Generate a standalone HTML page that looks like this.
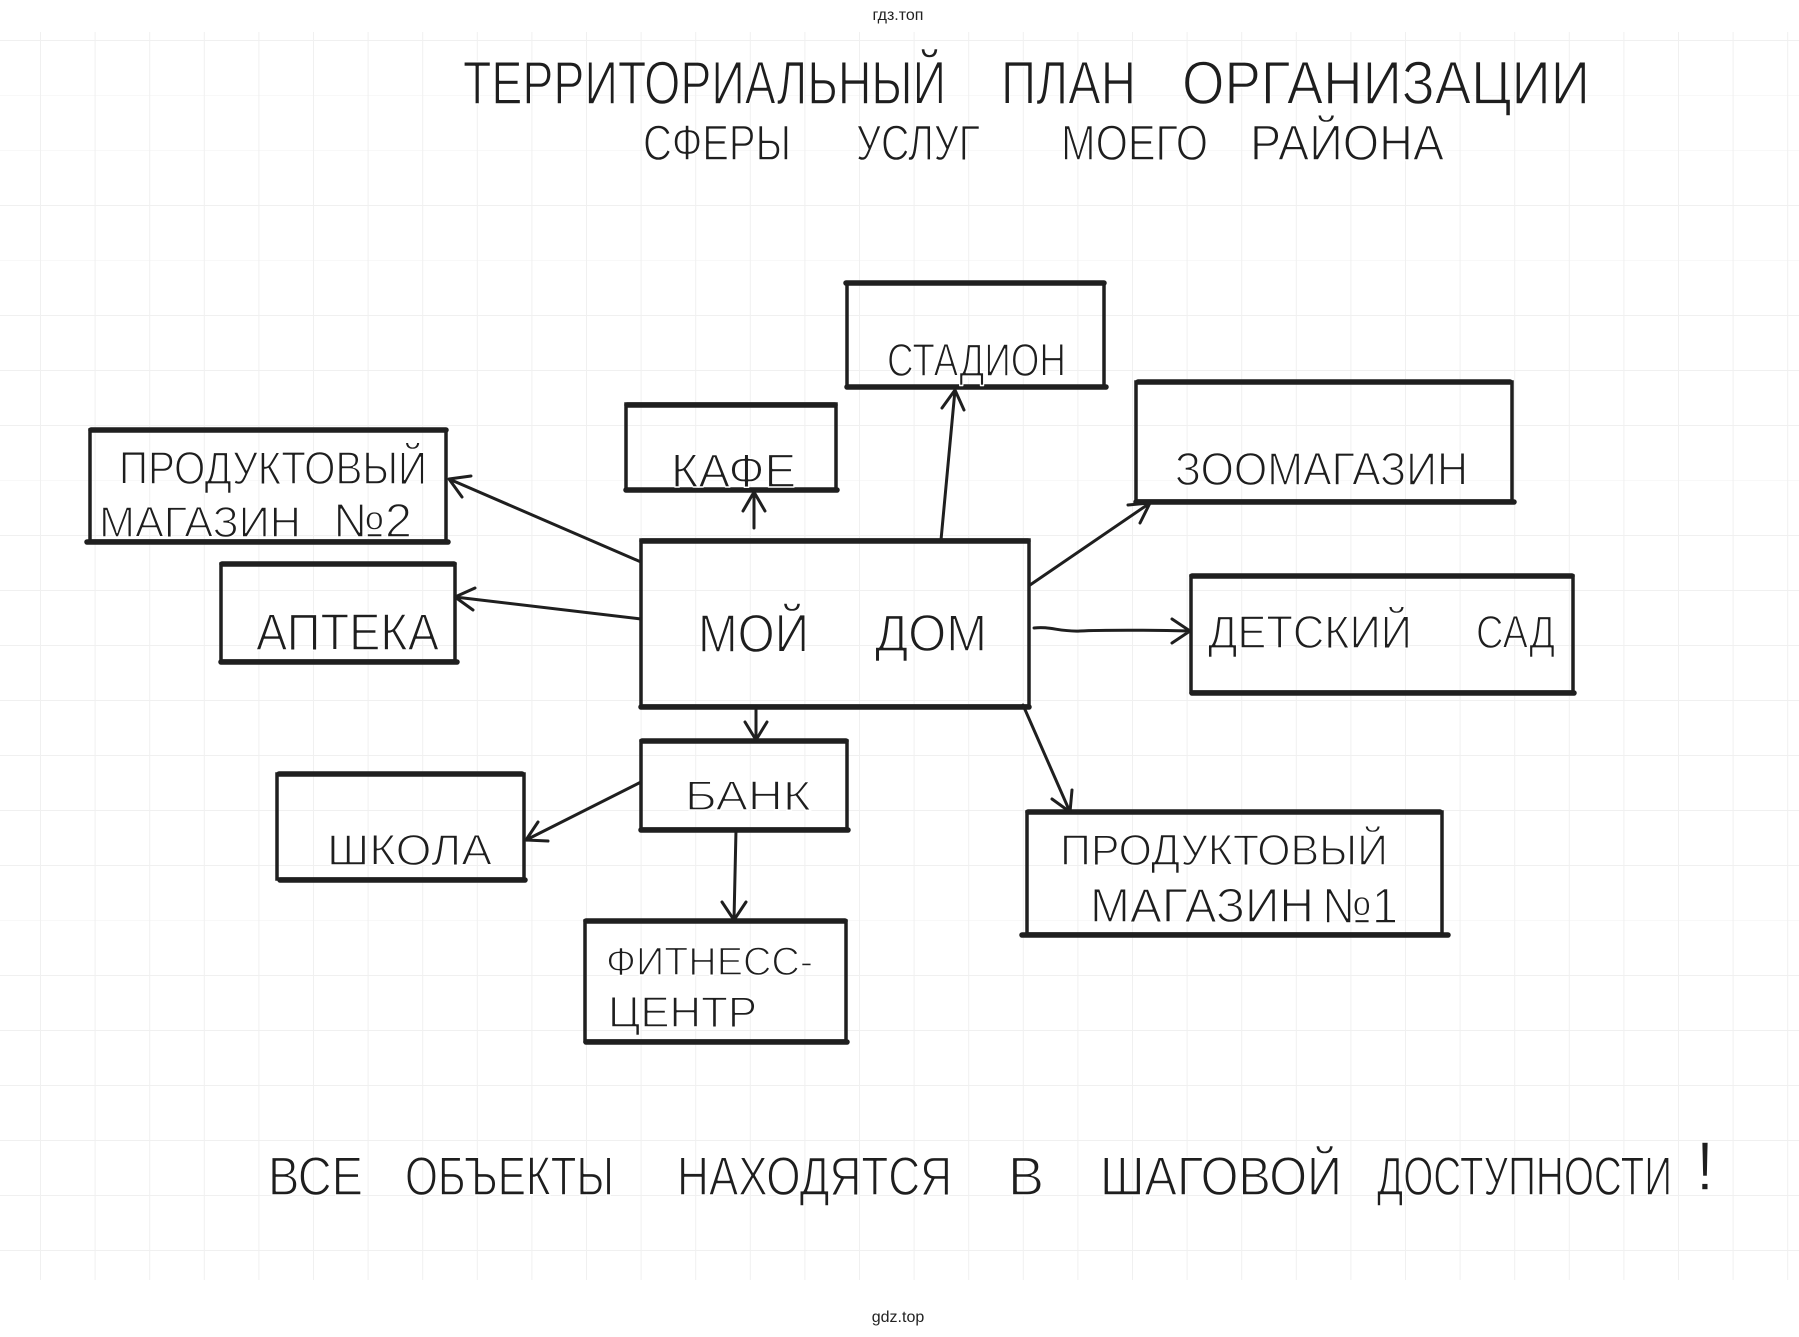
<!DOCTYPE html>
<html lang="ru">
<head>
<meta charset="utf-8">
<title>Территориальный план</title>
<style>
  html,body{margin:0;padding:0;background:#fff;}
  body{width:1799px;height:1337px;overflow:hidden;}
  svg{display:block;}
  text{font-family:"Liberation Sans","DejaVu Sans",sans-serif;fill:#1e1e1e;}
  .h{stroke:#fff;stroke-width:1.4px;stroke-linejoin:round;}
</style>
</head>
<body>
<svg width="1799" height="1337" viewBox="0 0 1799 1337" xmlns="http://www.w3.org/2000/svg">
  <defs>
    <pattern id="grid" x="40" y="40" width="54.6" height="55" patternUnits="userSpaceOnUse">
      <path d="M0 0H54.6M0 0V55" stroke="#f0f0f0" stroke-width="2" fill="none"/>
    </pattern>
  </defs>
  <rect x="0" y="0" width="1799" height="1337" fill="#fff"/>
  <rect x="0" y="32" width="1799" height="1248" fill="url(#grid)"/>

  <!-- watermark -->
  <text x="898" y="20" font-size="16" text-anchor="middle" style="fill:#222">гдз.топ</text>
  <text x="898" y="1322" font-size="16" text-anchor="middle" style="fill:#222">gdz.top</text>

  <!-- Title -->
  <g font-size="61" class="h">
    <text class="h" x="463" y="104" textLength="483" lengthAdjust="spacingAndGlyphs">ТЕРРИТОРИАЛЬНЫЙ</text>
    <text class="h" x="1001" y="104" textLength="135" lengthAdjust="spacingAndGlyphs">ПЛАН</text>
    <text class="h" x="1182" y="104" textLength="408" lengthAdjust="spacingAndGlyphs">ОРГАНИЗАЦИИ</text>
  </g>
  <g font-size="50">
    <text class="h" x="643" y="160" textLength="148" lengthAdjust="spacingAndGlyphs">СФЕРЫ</text>
    <text class="h" x="856" y="160" textLength="124" lengthAdjust="spacingAndGlyphs">УСЛУГ</text>
    <text class="h" x="1061" y="160" textLength="147" lengthAdjust="spacingAndGlyphs">МОЕГО</text>
    <text class="h" x="1250" y="160" textLength="194" lengthAdjust="spacingAndGlyphs">РАЙОНА</text>
  </g>

  <!-- Boxes -->
  <g fill="none" stroke="#1f1f1f" stroke-width="3.5" stroke-linecap="round">
    <rect x="847" y="283" width="257" height="104"/>
    <rect x="626" y="404" width="210" height="86"/>
    <rect x="90" y="430" width="356" height="111"/>
    <rect x="1136" y="382" width="376" height="119"/>
    <rect x="221" y="564" width="234" height="97"/>
    <rect x="641" y="540" width="388" height="166"/>
    <rect x="1191" y="576" width="382" height="116"/>
    <rect x="641" y="741" width="206" height="88"/>
    <rect x="277" y="774" width="247" height="105"/>
    <rect x="1027" y="812" width="415" height="122"/>
    <rect x="585" y="921" width="261" height="120"/>
  </g>
  <!-- thicker top / bottom edges -->
  <g fill="none" stroke="#1f1f1f" stroke-width="5.5" stroke-linecap="round">
    <path d="M846 283H1104 M847 387H1106"/>
    <path d="M627 405H835 M626 490H837"/>
    <path d="M91 430H446 M87 542H448"/>
    <path d="M1138 382H1510 M1136 502H1514"/>
    <path d="M222 564H454 M221 662H457"/>
    <path d="M642 541H1028 M641 707H1029"/>
    <path d="M1192 576H1572 M1192 693H1574"/>
    <path d="M642 741H846 M641 830H848"/>
    <path d="M279 774H522 M280 880H525"/>
    <path d="M1028 812H1440 M1022 935H1448"/>
    <path d="M586 921H845 M586 1042H847"/>
  </g>

  <!-- Arrows -->
  <g fill="none" stroke="#1f1f1f" stroke-width="3" stroke-linecap="round" stroke-linejoin="round">
    <path d="M641 562L449 479 M462 497L449 479L471 476"/>
    <path d="M641 619L455 597 M473 610L455 597L475 588"/>
    <path d="M754 528L754 492 M743 511L754 492L765 511"/>
    <path d="M941 540L955 390 M942 408L955 390L964 410"/>
    <path d="M1030 585L1150 503 M1128 505L1150 503L1140 523"/>
    <path d="M1034 628C1050 626 1060 632 1080 631S1150 630 1190 631 M1172 619L1190 631L1172 643"/>
    <path d="M756 707L756 740 M745 722L756 740L767 722"/>
    <path d="M641 782L526 840 M548 841L526 840L538 822"/>
    <path d="M736 830L734 920 M722 902L734 920L746 902"/>
    <path d="M1023 705L1070 812 M1072 790L1070 812L1052 799"/>
  </g>

  <!-- Box labels -->
  <text class="h" x="887" y="376" font-size="46" textLength="179" lengthAdjust="spacingAndGlyphs">СТАДИОН</text>
  <text class="h" x="671" y="487" font-size="47" textLength="125" lengthAdjust="spacingAndGlyphs">КАФЕ</text>

  <text class="h" x="119" y="484" font-size="46" textLength="308" lengthAdjust="spacingAndGlyphs">ПРОДУКТОВЫЙ</text>
  <text class="h" x="99" y="537" font-size="44" textLength="202" lengthAdjust="spacingAndGlyphs">МАГАЗИН</text>
  <text class="h" x="333" y="537" font-size="48" textLength="79" lengthAdjust="spacingAndGlyphs">№2</text>

  <text class="h" x="1175" y="485" font-size="46" textLength="293" lengthAdjust="spacingAndGlyphs">ЗООМАГАЗИН</text>
  <text class="h" x="256" y="650" font-size="52" textLength="183" lengthAdjust="spacingAndGlyphs">АПТЕКА</text>

  <text class="h" x="698" y="652" font-size="54" textLength="111" lengthAdjust="spacingAndGlyphs">МОЙ</text>
  <text class="h" x="875" y="651" font-size="52" textLength="112" lengthAdjust="spacingAndGlyphs">ДОМ</text>

  <text class="h" x="1208" y="648" font-size="46" textLength="204" lengthAdjust="spacingAndGlyphs">ДЕТСКИЙ</text>
  <text class="h" x="1476" y="648" font-size="46" textLength="79" lengthAdjust="spacingAndGlyphs">САД</text>

  <text class="h" x="685" y="810" font-size="42" textLength="126" lengthAdjust="spacingAndGlyphs">БАНК</text>
  <text class="h" x="327" y="865" font-size="44" textLength="165" lengthAdjust="spacingAndGlyphs">ШКОЛА</text>

  <text class="h" x="1060" y="865" font-size="44" textLength="328" lengthAdjust="spacingAndGlyphs">ПРОДУКТОВЫЙ</text>
  <text class="h" x="1090" y="922" font-size="48" textLength="224" lengthAdjust="spacingAndGlyphs">МАГАЗИН</text>
  <text class="h" x="1322" y="923" font-size="50" textLength="76" lengthAdjust="spacingAndGlyphs">№1</text>

  <text class="h" x="606" y="975" font-size="40" textLength="207" lengthAdjust="spacingAndGlyphs">ФИТНЕСС-</text>
  <text class="h" x="608" y="1027" font-size="44" textLength="149" lengthAdjust="spacingAndGlyphs">ЦЕНТР</text>

  <!-- Bottom sentence -->
  <g font-size="55">
    <text class="h" x="268" y="1195" textLength="95" lengthAdjust="spacingAndGlyphs">ВСЕ</text>
    <text class="h" x="405" y="1195" textLength="209" lengthAdjust="spacingAndGlyphs">ОБЪЕКТЫ</text>
    <text class="h" x="677" y="1195" textLength="275" lengthAdjust="spacingAndGlyphs">НАХОДЯТСЯ</text>
    <text class="h" x="1008" y="1195" textLength="36" lengthAdjust="spacingAndGlyphs">В</text>
    <text class="h" x="1100" y="1195" textLength="242" lengthAdjust="spacingAndGlyphs">ШАГОВОЙ</text>
    <text class="h" x="1377" y="1195" textLength="295" lengthAdjust="spacingAndGlyphs">ДОСТУПНОСТИ</text>
  </g>
  <text class="h" x="1705" y="1190" font-size="70" text-anchor="middle">!</text>
</svg>
</body>
</html>
